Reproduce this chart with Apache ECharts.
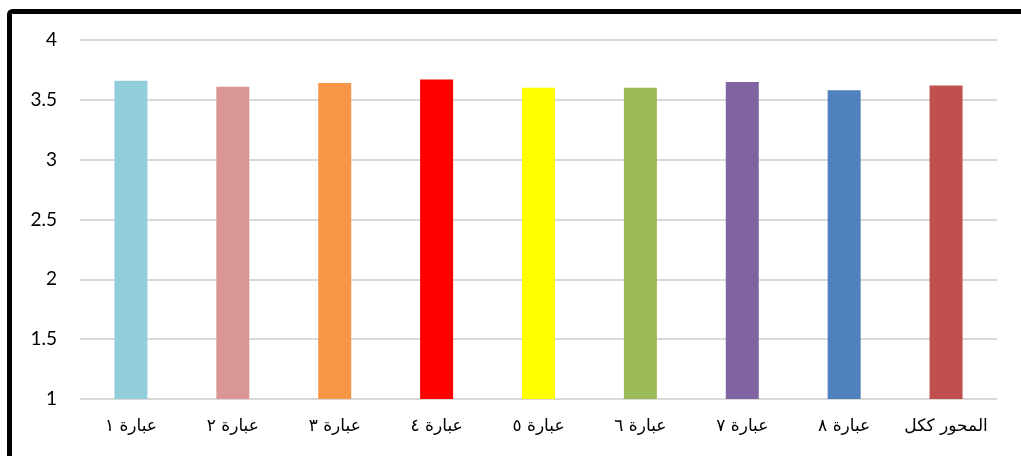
<!DOCTYPE html>
<html>
<head>
<meta charset="utf-8">
<script src="https://cdn.jsdelivr.net/npm/echarts@6/dist/echarts.min.js"></script>
<style>
html,body{margin:0;padding:0;background:#fff;}
#chart{width:1021px;height:456px;}
</style>
</head>
<body>
<div id="chart"></div>
<script>
const categories = ['عبارة ١','عبارة ٢','عبارة ٣','عبارة ٤','عبارة ٥','عبارة ٦','عبارة ٧','عبارة ٨','المحور ككل'];
const values = [3.66, 3.61, 3.64, 3.67, 3.60, 3.60, 3.65, 3.58, 3.62];
const barColors = ['#92CDDC','#D99694','#F79646','#FF0000','#FFFF00','#9BBB59','#8064A2','#4F81BD','#C0504D'];
const yMin = 1, yMax = 4, yStep = 0.5;

const chart = echarts.init(document.getElementById('chart'), null, {renderer:'canvas'});
chart.setOption({
  animation:false,
  backgroundColor:'#ffffff',
  graphic:[{
    type:'rect', left:7, top:9,
    shape:{width:1040, height:470, r:3},
    style:{fill:'none', stroke:'#000', lineWidth:5},
    silent:true
  }],
  grid:{left:80, right:24, top:40, bottom:57, containLabel:false},
  xAxis:{
    type:'category', data:categories,
    axisLine:{show:false}, axisTick:{show:false},
    axisLabel:{interval:0, color:'#000', fontFamily:'DejaVu Sans', fontSize:17, margin:19}
  },
  yAxis:{
    type:'value', min:yMin, max:yMax, interval:yStep,
    axisLine:{show:false}, axisTick:{show:false},
    axisLabel:{color:'#000', fontFamily:'Lato', fontSize:19, margin:23,
      formatter:v=>String(v)},
    splitLine:{lineStyle:{color:'#d9d9d9', width:2}}
  },
  series:[{
    type:'bar', barWidth:33,
    data:values.map((v,i)=>({value:v, itemStyle:{color:barColors[i]}}))
  }]
});
</script>
</body>
</html>
